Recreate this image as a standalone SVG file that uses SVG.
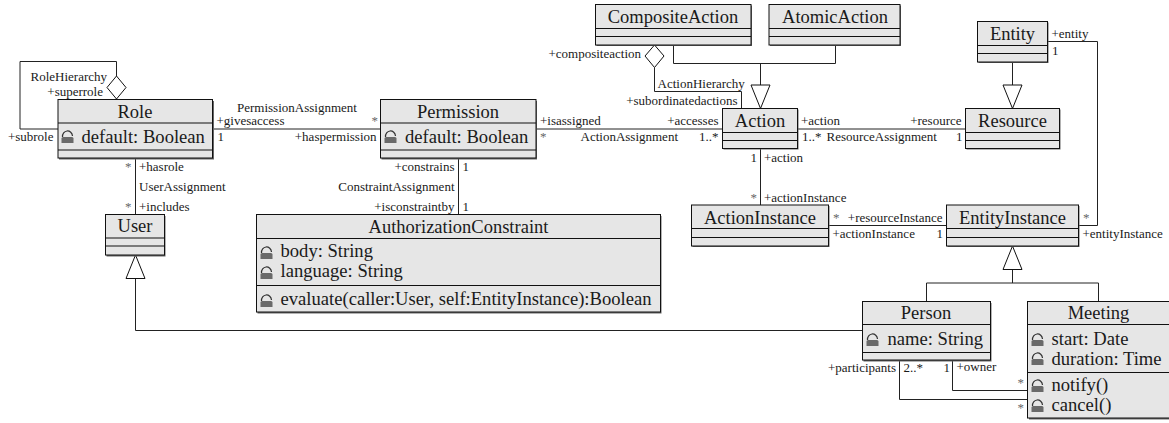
<svg xmlns="http://www.w3.org/2000/svg" xmlns:xlink="http://www.w3.org/1999/xlink" width="1169" height="423" viewBox="0 0 1169 423">
<style>
text{font-family:"Liberation Serif","Times New Roman",serif;fill:#1a1a1a}
.n{font-size:18.5px;text-anchor:middle}
.a{font-size:18.6px}
.l{font-size:13px}
.e{font-size:13px;text-anchor:end}
text.t{fill:#666}
.b{fill:#e6e6e6;stroke:#111;stroke-width:1}
.s{fill:#666;stroke:none}
.d{stroke:#111;stroke-width:1;fill:none}
.c{stroke:#222;stroke-width:1;fill:none}
.h{fill:#fff;stroke:#111;stroke-width:1}
</style>
<defs>
<g id="lock"><path d="M1.500 7A5 5.500 0 0 1 11.500 6" fill="none" stroke="#333" stroke-width="1.200"/><path d="M0.500 13V8.500Q0.500 7 2 7H11Q12.500 7 12.500 8.500V13Z" fill="#6a6a6a"/></g>
</defs>
<g id="connectors">
<path class="c" d="M58 129H20V61.500H116.500V76"/>
<path class="h" d="M116.500 76L126 87.500L116.500 99L107 87.500Z"/>
<path class="c" d="M212 129H381"/>
<path class="c" d="M135.500 158V214.500"/>
<path class="c" d="M458.500 158V214.500"/>
<path class="c" d="M536 129H722"/>
<path class="h" d="M654.500 45L664 56L654.500 67.500L645 56Z"/>
<path class="c" d="M654.500 67.500V91.500H741.500V108.500"/>
<path class="c" d="M673.500 45V63.500H835.500V45"/>
<path class="c" d="M760.500 63.500V85"/>
<path class="h" d="M751 85H770L760.500 108.500Z"/>
<path class="c" d="M798 129H966"/>
<path class="c" d="M1012.500 62V85"/>
<path class="h" d="M1003 85H1022L1012.500 108.500Z"/>
<path class="c" d="M1047 41.500H1097.500V225.500H1078"/>
<path class="c" d="M760.500 148V205"/>
<path class="c" d="M829 225.500H946"/>
<path class="c" d="M1012.500 269V283"/>
<path class="c" d="M926.500 302V283H1098.500V302"/>
<path class="h" d="M1003 269.500H1022L1012.500 246Z"/>
<path class="c" d="M135.500 278V330.500H862"/>
<path class="h" d="M126 278.500H145L135.500 255Z"/>
<path class="c" d="M952.500 360V390.500H1028"/>
<path class="c" d="M899.500 360V399.500H1028"/>
<text class="l" x="30.500" y="81">RoleHierarchy</text>
<text class="e" x="103" y="96">+superrole</text>
<text class="e" x="53.500" y="141">+subrole</text>
<text class="l" x="237" y="112">PermissionAssignment</text>
<text class="l" x="216.500" y="125">+givesaccess</text>
<text class="l t" x="371.500" y="125">*</text>
<text class="l" x="217.500" y="141">1</text>
<text class="e" x="376.500" y="141">+haspermission</text>
<text class="l t" x="125" y="171">*</text>
<text class="l" x="139" y="171">+hasrole</text>
<text class="l" x="139" y="191">UserAssignment</text>
<text class="l t" x="125" y="211">*</text>
<text class="l" x="139" y="211">+includes</text>
<text class="e" x="454.500" y="171">+constrains</text>
<text class="l" x="462.500" y="171">1</text>
<text class="e" x="454.500" y="191">ConstraintAssignment</text>
<text class="e" x="454.500" y="211">+isconstraintby</text>
<text class="l" x="462.500" y="211">1</text>
<text class="l" x="540" y="125">+isassigned</text>
<text class="l t" x="540" y="141">*</text>
<text class="e" x="718.500" y="125">+accesses</text>
<text class="l" x="580.500" y="141">ActionAssignment</text>
<text class="e" x="718.500" y="141">1..*</text>
<text class="e" x="641" y="58">+compositeaction</text>
<text class="l" x="657.500" y="88">ActionHierarchy</text>
<text class="e" x="737.500" y="105">+subordinatedactions</text>
<text class="l" x="801" y="125">+action</text>
<text class="l" x="802" y="141">1..*</text>
<text class="l" x="826.500" y="141">ResourceAssignment</text>
<text class="e" x="961.500" y="125">+resource</text>
<text class="l" x="956" y="141">1</text>
<text class="l" x="750.500" y="162">1</text>
<text class="l" x="764" y="162">+action</text>
<text class="l t" x="750.500" y="202">*</text>
<text class="l" x="764" y="202">+actionInstance</text>
<text class="l t" x="833" y="222">*</text>
<text class="e" x="942.500" y="222">+resourceInstance</text>
<text class="l" x="832.500" y="238">+actionInstance</text>
<text class="l" x="936.500" y="238">1</text>
<text class="l t" x="1083" y="222">*</text>
<text class="l" x="1082.500" y="238">+entityInstance</text>
<text class="l" x="1051.500" y="38">+entity</text>
<text class="l" x="1052" y="55">1</text>
<text class="e" x="896" y="372">+participants</text>
<text class="l" x="903.500" y="372">2..*</text>
<text class="l" x="943.500" y="372">1</text>
<text class="l" x="956.500" y="371">+owner</text>
<text class="l t" x="1017.500" y="387">*</text>
<text class="l t" x="1017.500" y="412">*</text>
</g>
<g id="Role"><rect class="s" x="59" y="101" width="155" height="58.500"/><rect class="b" x="58" y="99.500" width="154.500" height="58.500"/><path class="d" d="M58 123H212M58 150H212"/><text class="n" x="135" y="118">Role</text><use href="#lock" x="61" y="130"/><text class="a" x="81.500" y="143">default: Boolean</text></g>
<g id="Permission"><rect class="s" x="381.500" y="101" width="155.500" height="58.500"/><rect class="b" x="380.500" y="99.500" width="155.500" height="58.500"/><path class="d" d="M380 123H536M380 150H536"/><text class="n" x="458" y="118">Permission</text><use href="#lock" x="384" y="130"/><text class="a" x="405" y="143">default: Boolean</text></g>
<g id="User"><rect class="s" x="106.500" y="216" width="59" height="40.500"/><rect class="b" x="105.500" y="214.500" width="59" height="40.500"/><path class="d" d="M105 238H164M105 246H164"/><text class="n" x="135" y="232">User</text></g>
<g id="AuthorizationConstraint"><rect class="s" x="257.500" y="216" width="404" height="97.500"/><rect class="b" x="256.500" y="214.500" width="404" height="97.500"/><path class="d" d="M256 238.500H660M256 285.500H660"/><text class="n" x="458.500" y="232.500">AuthorizationConstraint</text><use href="#lock" x="260" y="246"/><text class="a" x="280.500" y="257">body: String</text><use href="#lock" x="260" y="266"/><text class="a" x="280.500" y="277">language: String</text><use href="#lock" x="260" y="294"/><text class="a" x="280.500" y="305">evaluate(caller:User, self:EntityInstance):Boolean</text></g>
<g id="CompositeAction"><rect class="s" x="596.500" y="5.500" width="155.500" height="40.500"/><rect class="b" x="595.500" y="4.500" width="155.500" height="40.500"/><path class="d" d="M595 28.500H751M595 36.500H751"/><text class="n" x="673" y="23">CompositeAction</text></g>
<g id="AtomicAction"><rect class="s" x="770" y="5.500" width="131" height="40.500"/><rect class="b" x="769" y="4.500" width="131" height="40.500"/><path class="d" d="M769 28.500H900M769 36.500H900"/><text class="n" x="835" y="23">AtomicAction</text></g>
<g id="Entity"><rect class="s" x="978.500" y="22.500" width="70" height="40.500"/><rect class="b" x="977.500" y="21.500" width="70" height="40.500"/><path class="d" d="M977 45.500H1047M977 53.500H1047"/><text class="n" x="1012.500" y="40">Entity</text></g>
<g id="Resource"><rect class="s" x="966.500" y="109.500" width="94" height="40"/><rect class="b" x="965.500" y="108.500" width="94" height="40"/><path class="d" d="M965 132.500H1059M965 140.500H1059"/><text class="n" x="1012.500" y="127">Resource</text></g>
<g id="Action"><rect class="s" x="723.500" y="109.500" width="75" height="40"/><rect class="b" x="722.500" y="108.500" width="75" height="40"/><path class="d" d="M722 132.500H797M722 140.500H797"/><text class="n" x="760" y="127">Action</text></g>
<g id="ActionInstance"><rect class="s" x="692.500" y="206" width="137" height="41"/><rect class="b" x="691.500" y="205" width="137" height="41"/><path class="d" d="M691 228.500H829M691 237.500H829"/><text class="n" x="760" y="224">ActionInstance</text></g>
<g id="EntityInstance"><rect class="s" x="947.500" y="206" width="132" height="41"/><rect class="b" x="946.500" y="205" width="132" height="41"/><path class="d" d="M946 228.500H1078M946 237.500H1078"/><text class="n" x="1012.500" y="224">EntityInstance</text></g>
<g id="Person"><rect class="s" x="863.500" y="303" width="128" height="58.500"/><rect class="b" x="862.500" y="301.500" width="128" height="58.500"/><path class="d" d="M862 324.500H990M862 352.500H990"/><text class="n" x="926" y="319">Person</text><use href="#lock" x="866" y="333"/><text class="a" x="887.500" y="345">name: String</text></g>
<g id="Meeting"><rect class="s" x="1029" y="303" width="145" height="116.500"/><rect class="b" x="1027.500" y="301.500" width="145" height="116.500"/><path class="d" d="M1027 324.500H1169M1027 372.500H1169"/><text class="n" x="1098.500" y="319">Meeting</text><use href="#lock" x="1031" y="333"/><text class="a" x="1051.500" y="345">start: Date</text><use href="#lock" x="1031" y="352"/><text class="a" x="1051.500" y="364.500">duration: Time</text><use href="#lock" x="1031" y="379"/><text class="a" x="1051.500" y="391">notify()</text><use href="#lock" x="1031" y="399"/><text class="a" x="1051.500" y="411">cancel()</text></g>
</svg>
